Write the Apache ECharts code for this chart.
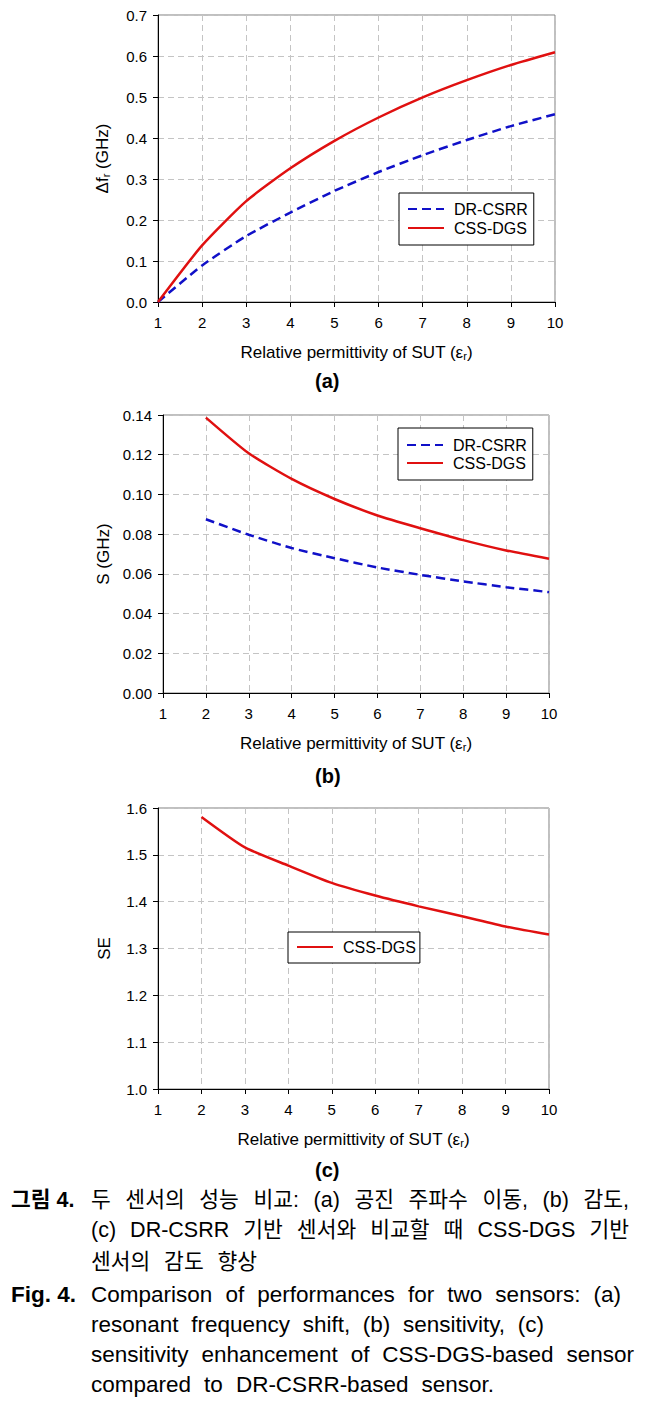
<!DOCTYPE html>
<html><head><meta charset="utf-8">
<script src="https://cdn.jsdelivr.net/npm/echarts@6/dist/echarts.min.js"></script>
<style>
html,body{margin:0;padding:0;background:#fff;}
#chart{width:656px;height:1407px;position:absolute;left:0;top:0;}
.cap{position:absolute;font-family:"Liberation Sans",Arial,"Noto Sans CJK KR",sans-serif;font-size:22.5px;line-height:30px;color:#000;white-space:nowrap;}
.j{text-align:justify;text-align-last:justify;}
.b{font-weight:bold;}
.ko{font-size:21.5px;}
</style></head>
<body>
<div id="chart"></div>
<div id="caption">
  <div class="cap ko b" style="left:11px;top:1185px;">그림 4.</div>
  <div class="cap ko j" style="left:91px;top:1185px;width:538px;">두 센서의 성능 비교: (a) 공진 주파수 이동, (b) 감도,</div>
  <div class="cap ko j" style="left:91px;top:1215px;width:538px;">(c) DR-CSRR 기반 센서와 비교할 때 CSS-DGS 기반</div>
  <div class="cap ko j" style="left:91px;top:1247px;width:166px;">센서의 감도 향상</div>
  <div class="cap b" style="left:11px;top:1280px;">Fig. 4.</div>
  <div class="cap j" style="left:91px;top:1280px;width:530px;">Comparison of performances for two sensors: (a)</div>
  <div class="cap j" style="left:91px;top:1310px;width:453px;">resonant frequency shift, (b) sensitivity, (c)</div>
  <div class="cap j" style="left:91px;top:1340px;width:543px;">sensitivity enhancement of CSS-DGS-based sensor</div>
  <div class="cap j" style="left:91px;top:1370px;width:403px;">compared to DR-CSRR-based sensor.</div>
</div>
<script>
// ---- data ----
const xTicks = [1, 2, 3, 4, 5, 6, 7, 8, 9, 10];
const epsA = [1, 2, 3, 4, 5, 6, 7, 8, 9, 10];
const dfDRCSRR = [0, 0.089, 0.161, 0.218, 0.271, 0.317, 0.358, 0.395, 0.429, 0.458];
const dfCSSDGS = [0, 0.138, 0.246, 0.326, 0.393, 0.450, 0.499, 0.541, 0.578, 0.609];
const epsB = [2, 3, 4, 5, 6, 7, 8, 9, 10];
const sDRCSRR = [0.0875, 0.0797, 0.0730, 0.0679, 0.0632, 0.0595, 0.0562, 0.0533, 0.0508];
const sCSSDGS = [0.1387, 0.1207, 0.1078, 0.0977, 0.0894, 0.0830, 0.0770, 0.0718, 0.0676];
const epsC = [2, 3, 4, 5, 6, 7, 8, 9, 10];
const seCSSDGS = [1.581, 1.516, 1.477, 1.440, 1.413, 1.390, 1.369, 1.347, 1.330];
const seriesNames = ['DR-CSRR', 'CSS-DGS'];
const panelLabels = ['(a)', '(b)', '(c)'];
const xTitle = '{a|Relative permittivity of SUT (ε}{s|r}{a|)}';
const yTitles = ['{a|Δf}{s|r}{a| (GHz)}', '{a|S (GHz)}', '{a|SE}'];

// ---- styles ----
const FONT = '"Liberation Sans", Arial, sans-serif';
const RED = '#e01010';
const BLUE = '#1010c8';
const richT = {
  a: {fontSize: 17, fontFamily: FONT, color: '#000'},
  s: {fontSize: 11, fontFamily: FONT, color: '#000', verticalAlign: 'bottom', padding: [7, 0, 0, 0]}
};
const pair = (xs, ys) => xs.map((x, i) => [x, ys[i]]);

const grids = [
  {left: 158, top: 15, width: 397, height: 287},
  {left: 163, top: 415, width: 386, height: 278},
  {left: 158, top: 808, width: 391, height: 281}
];
const yCfg = [
  {min: 0, max: 0.7, interval: 0.1, dec: 1, gap: 47},
  {min: 0, max: 0.14, interval: 0.02, dec: 2, gap: 51},
  {min: 1.0, max: 1.6, interval: 0.1, dec: 1, gap: 45}
];

const option = {
  animation: false,
  backgroundColor: '#fff',
  grid: grids.map(g => Object.assign({show: true, borderColor: '#808080', borderWidth: 1, backgroundColor: 'transparent'}, g)),
  xAxis: grids.map((g, i) => ({
    type: 'value', gridIndex: i, min: xTicks[0], max: xTicks[xTicks.length - 1], interval: 1,
    axisLine: {show: true, lineStyle: {color: '#000', width: 1}},
    axisTick: {show: true, inside: false, length: 5, lineStyle: {color: '#000'}},
    axisLabel: {color: '#000', fontSize: 15, fontFamily: FONT, margin: 13},
    splitLine: {show: true, lineStyle: {color: '#c4c4c4', type: [6, 4], width: 1}},
    name: xTitle, nameLocation: 'middle', nameGap: 41,
    nameTextStyle: {rich: richT}
  })),
  yAxis: yCfg.map((c, i) => ({
    type: 'value', gridIndex: i, min: c.min, max: c.max, interval: c.interval,
    axisLine: {show: true, lineStyle: {color: '#000', width: 1}},
    axisTick: {show: true, inside: false, length: 5, lineStyle: {color: '#000'}},
    axisLabel: {color: '#000', fontSize: 15, fontFamily: FONT, margin: 11,
      formatter: v => v.toFixed(c.dec)},
    splitLine: {show: true, lineStyle: {color: '#c4c4c4', type: [6, 4], width: 1}},
    name: yTitles[i], nameLocation: 'middle', nameGap: c.gap, nameRotate: 90,
    nameTextStyle: {rich: richT}
  })),
  legend: [
    {left: 399, top: 193, data: seriesNames, pad: [8, 6, 9, 8], gap: 3},
    {left: 398, top: 428, data: seriesNames, pad: [9, 6, 9, 8], gap: 2},
    {left: 288, top: 932, data: ['CSS-DGS'], pad: [7, 4, 8, 8], gap: 2}
  ].map(l => ({
    left: l.left, top: l.top, orient: 'vertical', data: l.data,
    padding: l.pad, itemWidth: 36, itemHeight: 16, itemGap: l.gap,
    borderColor: '#000', borderWidth: 1, backgroundColor: '#fff',
    itemStyle: {opacity: 0},
    textStyle: {color: '#000', fontSize: 16, fontFamily: FONT, padding: [0, 0, 0, 5]},
    selectedMode: false
  })),
  series: [
    {name: 'DR-CSRR', type: 'line', xAxisIndex: 0, yAxisIndex: 0, data: pair(epsA, dfDRCSRR)},
    {name: 'CSS-DGS', type: 'line', xAxisIndex: 0, yAxisIndex: 0, data: pair(epsA, dfCSSDGS)},
    {name: 'DR-CSRR', type: 'line', xAxisIndex: 1, yAxisIndex: 1, data: pair(epsB, sDRCSRR)},
    {name: 'CSS-DGS', type: 'line', xAxisIndex: 1, yAxisIndex: 1, data: pair(epsB, sCSSDGS)},
    {name: 'CSS-DGS', type: 'line', xAxisIndex: 2, yAxisIndex: 2, data: pair(epsC, seCSSDGS)}
  ].map(s => Object.assign(s, {
    symbol: 'none', smooth: 0.2, z: 5,
    lineStyle: s.name === 'DR-CSRR'
      ? {color: BLUE, width: 2.5, type: [9, 5]}
      : {color: RED, width: 2.5, type: 'solid'},
    itemStyle: {color: s.name === 'DR-CSRR' ? BLUE : RED}
  })),
  graphic: panelLabels.map((t, i) => ({
    type: 'text', left: 315, top: [371, 766, 1160][i],
    style: {text: t, fill: '#000', font: 'bold 20px "Liberation Sans", Arial, sans-serif'}
  }))
};

const chart = echarts.init(document.getElementById('chart'), null, {renderer: 'svg', width: 656, height: 1407});
chart.setOption(option);
</script>
</body></html>
